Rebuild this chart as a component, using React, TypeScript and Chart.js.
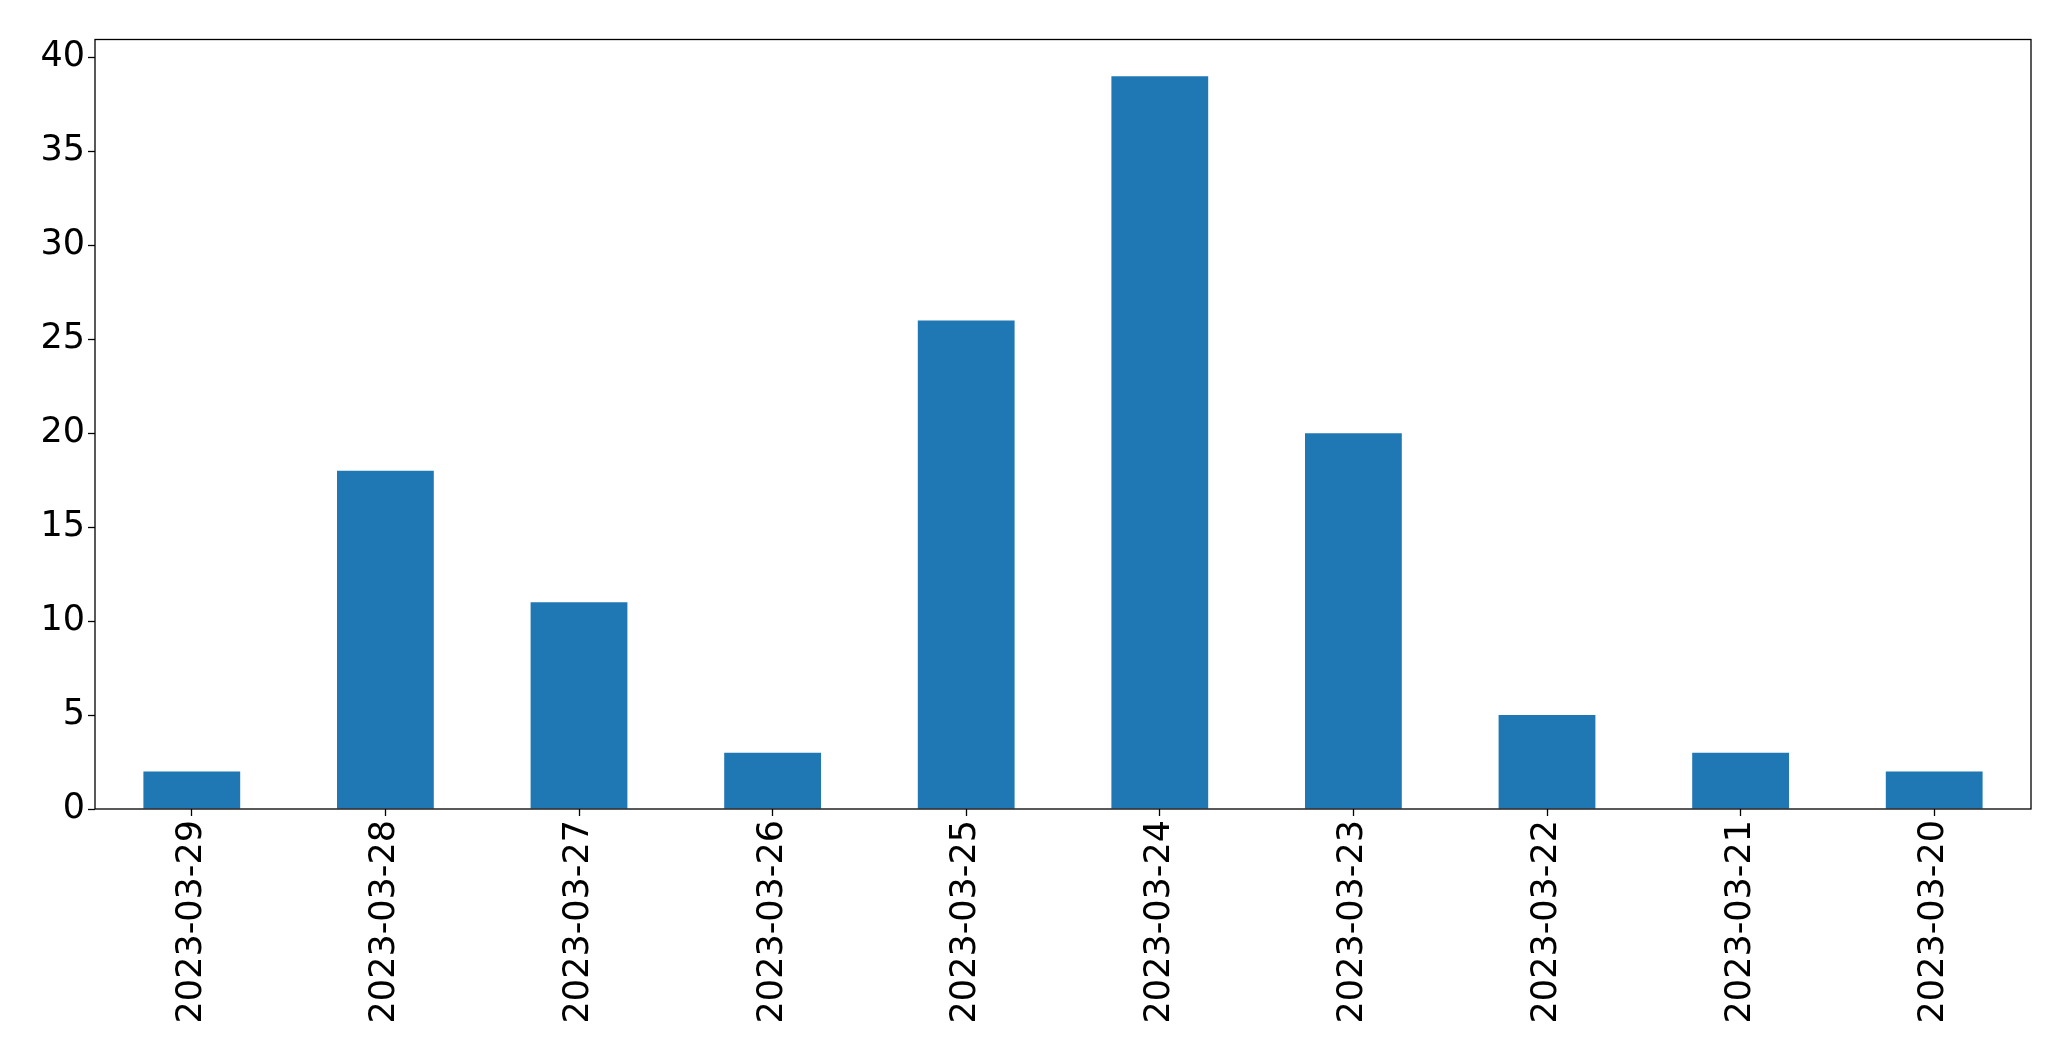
import React, { useEffect, useRef } from "react";
import { Chart, registerables } from "chart.js";

Chart.register(...registerables);

const categories = [
  "2023-03-29", "2023-03-28", "2023-03-27", "2023-03-26", "2023-03-25",
  "2023-03-24", "2023-03-23", "2023-03-22", "2023-03-21", "2023-03-20",
];
const values = [2, 18, 11, 3, 26, 39, 20, 5, 3, 2];
const yMax = 40.95;
const yStep = 5;

const FONT = "'DejaVu Sans', sans-serif";

const frame = {
  id: "frame",
  afterDraw(chart: any) {
    const { ctx, chartArea: a } = chart;
    ctx.save();
    ctx.strokeStyle = "#000";
    ctx.lineWidth = 1.3;
    ctx.strokeRect(a.left, a.top, a.right - a.left, a.bottom - a.top);
    ctx.restore();
  },
};

export default function App() {
  const ref = useRef<HTMLCanvasElement>(null);
  useEffect(() => {
    const chart = new Chart(ref.current!, {
      type: "bar",
      data: {
        labels: categories,
        datasets: [
          {
            data: values,
            backgroundColor: "#1f77b4",
            barPercentage: 0.5,
            categoryPercentage: 1,
          },
        ],
      },
      options: {
        responsive: false,
        animation: false,
        devicePixelRatio: 1,
        layout: { padding: { top: 39.5, right: 40, left: 0, bottom: 0 } },
        plugins: { legend: { display: false }, tooltip: { enabled: false } },
        scales: {
          x: {
            afterFit(s: any) { s.height = 252; },
            grid: { display: true, offset: false, drawOnChartArea: false, tickLength: 7, tickColor: "#000", tickWidth: 1.3 },
            border: { display: false },
            ticks: {
              color: "#000",
              font: { family: FONT, size: 35 },
              minRotation: 90,
              maxRotation: 90,
              padding: 4,
              autoSkip: false,
            },
          },
          y: {
            min: 0,
            max: yMax,
            afterFit(s: any) { s.width = 95; },
            grid: { display: true, drawOnChartArea: false, tickLength: 7, tickColor: "#000", tickWidth: 1.3 },
            border: { display: false },
            ticks: {
              stepSize: yStep,
              includeBounds: false,
              color: "#000",
              font: { family: FONT, size: 35 },
              padding: 3,
            },
          },
        },
      },
      plugins: [frame],
    });
    return () => chart.destroy();
  }, []);
  return (
    <div style={{ position: "fixed", left: 0, top: 0, width: 2071, height: 1061, background: "#fff" }}>
      <canvas ref={ref} width={2071} height={1061} />
    </div>
  );
}
